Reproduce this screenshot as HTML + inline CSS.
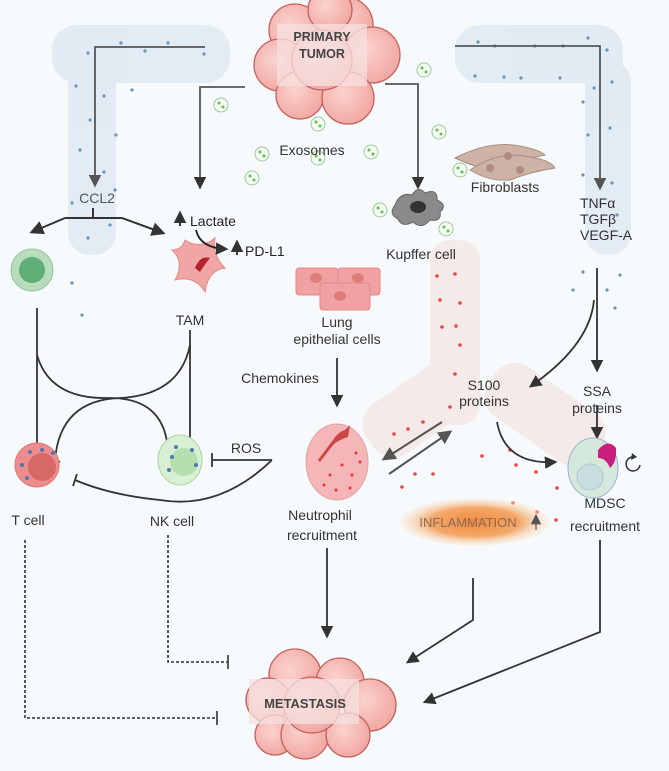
<!DOCTYPE html>
<html><head><meta charset="utf-8"><style>
html,body{margin:0;padding:0;background:#f7fafc;}
svg{display:block;font-family:"Liberation Sans",sans-serif;}
</style></head><body>
<svg width="669" height="771" viewBox="0 0 669 771" xmlns="http://www.w3.org/2000/svg">
<defs>
<marker id="ar" viewBox="0 0 10 10" refX="8" refY="5" markerWidth="7" markerHeight="7" orient="auto"><path d="M0,0 L10,5 L0,10 z" fill="#333"/></marker>
<marker id="ag" viewBox="0 0 10 10" refX="8" refY="5" markerWidth="7" markerHeight="7" orient="auto"><path d="M0,0 L10,5 L0,10 z" fill="#555"/></marker>
<radialGradient id="inf" cx="0.5" cy="0.5" r="0.5"><stop offset="0" stop-color="#f08a3c"/><stop offset="0.6" stop-color="#f4a86a"/><stop offset="1" stop-color="#fbe9d4" stop-opacity="0.3"/></radialGradient>
<radialGradient id="tum" cx="0.4" cy="0.4" r="0.7"><stop offset="0" stop-color="#fbd3cf"/><stop offset="1" stop-color="#f0a29c"/></radialGradient>
</defs>
<rect width="669" height="771" fill="#f7fafc"/>
<g fill="#dfe8f3" opacity="0.85">
<rect x="52" y="25" width="178" height="58" rx="25"/>
<rect x="68" y="60" width="48" height="195" rx="22"/>
<rect x="455" y="25" width="168" height="58" rx="25"/>
<rect x="585" y="60" width="46" height="195" rx="22"/>
</g>
<g fill="#6a93b8">
<circle cx="88" cy="53" r="1.6"/><circle cx="121" cy="43" r="1.6"/><circle cx="145" cy="51" r="1.6"/><circle cx="168" cy="43" r="1.6"/><circle cx="204" cy="54" r="1.6"/><circle cx="76" cy="86" r="1.6"/><circle cx="104" cy="96" r="1.6"/><circle cx="132" cy="90" r="1.6"/><circle cx="90" cy="120" r="1.6"/><circle cx="116" cy="135" r="1.6"/><circle cx="80" cy="150" r="1.6"/><circle cx="104" cy="172" r="1.6"/><circle cx="72" cy="203" r="1.6"/><circle cx="110" cy="225" r="1.6"/><circle cx="88" cy="238" r="1.6"/><circle cx="72" cy="283" r="1.6"/><circle cx="82" cy="315" r="1.6"/><circle cx="115" cy="190" r="1.6"/>
<circle cx="478" cy="42" r="1.6"/><circle cx="495" cy="46" r="1.6"/><circle cx="535" cy="46" r="1.6"/><circle cx="563" cy="46" r="1.6"/><circle cx="588" cy="38" r="1.6"/><circle cx="607" cy="50" r="1.6"/><circle cx="475" cy="76" r="1.6"/><circle cx="504" cy="77" r="1.6"/><circle cx="521" cy="78" r="1.6"/><circle cx="560" cy="78" r="1.6"/><circle cx="594" cy="88" r="1.6"/><circle cx="612" cy="82" r="1.6"/><circle cx="583" cy="102" r="1.6"/><circle cx="610" cy="128" r="1.6"/><circle cx="588" cy="135" r="1.6"/><circle cx="583" cy="175" r="1.6"/><circle cx="612" cy="183" r="1.6"/><circle cx="617" cy="215" r="1.6"/>
<circle cx="583" cy="272" r="1.6"/><circle cx="620" cy="275" r="1.6"/><circle cx="573" cy="290" r="1.6"/><circle cx="607" cy="290" r="1.6"/><circle cx="615" cy="308" r="1.6"/>
</g>
<g fill="#f4e9e5" opacity="0.9">
<rect x="430" y="240" width="50" height="185" rx="20"/>
<rect x="360" y="380" width="115" height="60" rx="25" transform="rotate(-35 417 410)"/>
<rect x="480" y="385" width="130" height="60" rx="25" transform="rotate(35 545 415)"/>
</g>
<g fill="#e44">
<circle cx="437" cy="276" r="1.8"/><circle cx="455" cy="274" r="1.8"/><circle cx="440" cy="300" r="1.8"/><circle cx="460" cy="303" r="1.8"/><circle cx="442" cy="327" r="1.8"/><circle cx="456" cy="326" r="1.8"/><circle cx="460" cy="345" r="1.8"/><circle cx="455" cy="374" r="1.8"/><circle cx="450" cy="407" r="1.8"/><circle cx="394" cy="434" r="1.8"/><circle cx="408" cy="429" r="1.8"/><circle cx="423" cy="422" r="1.8"/><circle cx="402" cy="487" r="1.8"/><circle cx="415" cy="474" r="1.8"/><circle cx="433" cy="474" r="1.8"/><circle cx="482" cy="456" r="1.8"/><circle cx="510" cy="450" r="1.8"/><circle cx="516" cy="465" r="1.8"/><circle cx="536" cy="472" r="1.8"/><circle cx="513" cy="503" r="1.8"/><circle cx="537" cy="512" r="1.8"/><circle cx="557" cy="488" r="1.8"/><circle cx="556" cy="520" r="1.8"/>
</g>
<g stroke="#c6605e" stroke-width="1.3" fill="url(#tum)">
<circle cx="295" cy="30" r="26"/><circle cx="345" cy="25" r="28"/><circle cx="330" cy="10" r="22"/><circle cx="372" cy="55" r="28"/><circle cx="280" cy="65" r="26"/><circle cx="300" cy="95" r="24"/><circle cx="348" cy="98" r="26"/><circle cx="322" cy="60" r="30"/>
</g>
<rect x="277" y="24" width="90" height="62" fill="#f6e2e0" opacity="0.75"/>
<text x="322" y="41" font-size="12.5" font-weight="bold" fill="#444" text-anchor="middle">PRIMARY</text>
<text x="322" y="58" font-size="12.5" font-weight="bold" fill="#444" text-anchor="middle">TUMOR</text>
<g stroke="#c6605e" stroke-width="1.3" fill="url(#tum)">
<circle cx="295" cy="675" r="26"/><circle cx="340" cy="682" r="24"/><circle cx="370" cy="705" r="26"/><circle cx="268" cy="700" r="22"/><circle cx="275" cy="735" r="20"/><circle cx="305" cy="735" r="24"/><circle cx="348" cy="735" r="22"/><circle cx="312" cy="705" r="28"/>
</g>
<rect x="249" y="679" width="110" height="45" fill="#f6e2e0" opacity="0.75"/>
<text x="305" y="708" font-size="13" font-weight="bold" fill="#444" text-anchor="middle">METASTASIS</text>
<g stroke="#555" stroke-width="1.8" fill="none">
<path d="M205,47 H95 V185" marker-end="url(#ag)"/>
<path d="M455,46 H600 V188" marker-end="url(#ag)"/>
<path d="M245,87 H200 V187" marker-end="url(#ar)"/>
<path d="M385,84 H418 V187" marker-end="url(#ar)"/>
</g>
<text x="97" y="203" font-size="14" fill="#555" text-anchor="middle">CCL2</text>
<g stroke="#333" stroke-width="2" fill="none">
<path d="M93,208 V218"/>
<path d="M65,218 H122"/>
<path d="M65,218 L32,232" marker-end="url(#ar)"/>
<path d="M122,218 L163,233" marker-end="url(#ar)"/>
</g>
<g stroke="#9cc89a" stroke-width="1" fill="#f5fbf3">
<circle cx="221" cy="105" r="7"/><circle cx="262" cy="154" r="7"/><circle cx="318" cy="124" r="7"/><circle cx="371" cy="152" r="7"/><circle cx="380" cy="210" r="7"/><circle cx="252" cy="178" r="7"/><circle cx="424" cy="70" r="7"/><circle cx="439" cy="132" r="7"/><circle cx="460" cy="170" r="7"/><circle cx="446" cy="229" r="7"/><circle cx="318" cy="158" r="7"/>
</g>
<g fill="#5ac050">
<circle cx="219" cy="103" r="1.5"/><circle cx="223" cy="107" r="1.5"/><circle cx="316" cy="122" r="1.5"/><circle cx="320" cy="126" r="1.5"/><circle cx="260" cy="152" r="1.5"/><circle cx="264" cy="156" r="1.5"/><circle cx="369" cy="150" r="1.5"/><circle cx="373" cy="154" r="1.5"/><circle cx="378" cy="208" r="1.5"/><circle cx="382" cy="212" r="1.5"/><circle cx="250" cy="176" r="1.5"/><circle cx="254" cy="180" r="1.5"/><circle cx="422" cy="68" r="1.5"/><circle cx="426" cy="72" r="1.5"/><circle cx="437" cy="130" r="1.5"/><circle cx="441" cy="134" r="1.5"/><circle cx="458" cy="168" r="1.5"/><circle cx="462" cy="172" r="1.5"/><circle cx="444" cy="227" r="1.5"/><circle cx="448" cy="231" r="1.5"/><circle cx="316" cy="156" r="1.5"/><circle cx="320" cy="160" r="1.5"/>
</g>
<text x="312" y="155" font-size="14" fill="#333" text-anchor="middle">Exosomes</text>
<g fill="#cdb3a5" stroke="#a88e80" stroke-width="1">
<path d="M455,158 Q490,140 520,146 Q540,150 545,155 Q520,160 500,170 Q480,170 455,158z"/>
<path d="M470,170 Q500,150 530,157 Q550,160 555,168 Q530,172 510,180 Q490,182 470,170z"/>
</g>
<g fill="#b08c80"><circle cx="508" cy="156" r="4"/><circle cx="490" cy="168" r="4"/><circle cx="520" cy="170" r="4"/></g>
<text x="505" y="192" font-size="14" fill="#333" text-anchor="middle">Fibroblasts</text>
<text x="580" y="208" font-size="14" fill="#333">TNFα</text>
<text x="580" y="224" font-size="14" fill="#333">TGFβ</text>
<text x="580" y="240" font-size="14" fill="#333">VEGF-A</text>
<path d="M395,205 Q400,192 412,195 Q418,185 425,193 Q438,188 437,200 Q448,205 440,212 Q442,222 430,220 Q422,230 413,222 Q402,228 398,219 Q388,214 395,205z" fill="#8a8a8a" stroke="#666"/>
<ellipse cx="418" cy="207" rx="8" ry="6" fill="#333"/>
<text x="421" y="259" font-size="14" fill="#333" text-anchor="middle">Kupffer cell</text>
<circle cx="32" cy="270" r="21" fill="#b8dcbc" stroke="#8fc49a"/>
<circle cx="32" cy="270" r="13" fill="#5fae77"/>
<path d="M185,240 Q200,250 215,238 Q212,255 225,268 Q208,270 205,292 Q195,275 175,280 Q185,262 172,250 Q182,250 185,240z" fill="#f0a6a4" stroke="#e08a88"/>
<path d="M195,268 Q200,255 210,258 Q205,264 200,272z" fill="#b5232e"/>
<text x="190" y="325" font-size="14" fill="#333" text-anchor="middle">TAM</text>
<g stroke="#222" stroke-width="1.8" fill="none">
<path d="M180,226 V213" marker-end="url(#ar)"/>
<path d="M237,255 V242" marker-end="url(#ar)"/>
<path d="M196,230 Q200,248 226,249" marker-end="url(#ar)"/>
</g>
<text x="190" y="226" font-size="14" fill="#222">Lactate</text>
<text x="245" y="256" font-size="14" fill="#222">PD-L1</text>
<g fill="#f0a2a2" stroke="#e48888">
<rect x="296" y="268" width="42" height="27" rx="3"/><rect x="338" y="268" width="42" height="27" rx="3"/><rect x="320" y="283" width="50" height="27" rx="3"/>
</g>
<g fill="#e07c7c"><ellipse cx="316" cy="278" rx="6" ry="5"/><ellipse cx="358" cy="278" rx="6" ry="5"/><ellipse cx="340" cy="296" rx="6" ry="5"/></g>
<text x="337" y="327" font-size="14" fill="#333" text-anchor="middle">Lung</text>
<text x="337" y="344" font-size="14" fill="#333" text-anchor="middle">epithelial cells</text>
<text x="280" y="383" font-size="14" fill="#333" text-anchor="middle">Chemokines</text>
<g stroke="#333" stroke-width="1.8" fill="none">
<path d="M37,308 V461" />
<path d="M31,461 H43"/>
<path d="M37,355 Q50,400 110,398 Q165,398 168,451"/>
<path d="M162,451 H174"/>
<path d="M190,330 V448"/>
<path d="M184,448 H196"/>
<path d="M190,345 Q180,395 120,398 Q60,400 55,460"/>
<path d="M50,459 L60,462"/>
<path d="M272,460 H212"/><path d="M212,453 V467"/>
<path d="M272,460 Q220,510 160,500 Q110,495 75,480"/><path d="M73,486 L77,474"/>
</g>
<text x="246" y="453" font-size="14" fill="#333" text-anchor="middle">ROS</text>
<circle cx="37" cy="465" r="22" fill="#ec8c8c" stroke="#e07878"/>
<circle cx="42" cy="467" r="14" fill="#d86868"/>
<g fill="#4a7ab0"><circle cx="30" cy="452" r="2"/><circle cx="42" cy="450" r="2"/><circle cx="53" cy="453" r="2"/><circle cx="22" cy="465" r="2"/><circle cx="27" cy="478" r="2"/></g>
<text x="28" y="525" font-size="14" fill="#333" text-anchor="middle">T cell</text>
<ellipse cx="180" cy="460" rx="22" ry="25" fill="#d8efd3" stroke="#a9d6a6"/>
<circle cx="184" cy="462" r="14" fill="#b5dfae"/>
<g fill="#4a7ab0"><circle cx="192" cy="450" r="2"/><circle cx="172" cy="457" r="2"/><circle cx="176" cy="447" r="2"/><circle cx="196" cy="465" r="2"/><circle cx="169" cy="470" r="2"/></g>
<text x="172" y="526" font-size="14" fill="#333" text-anchor="middle">NK cell</text>
<ellipse cx="337" cy="462" rx="31" ry="38" fill="#f4b6b6" stroke="#e8a0a0"/>
<path d="M318,460 L333,440 Q338,432 345,430 L350,425 L348,437 Q338,440 333,445 L320,462z" fill="#c44"/>
<g fill="#e33"><circle cx="330" cy="475" r="1.5"/><circle cx="342" cy="465" r="1.5"/><circle cx="352" cy="475" r="1.5"/><circle cx="336" cy="490" r="1.5"/><circle cx="350" cy="488" r="1.5"/><circle cx="360" cy="462" r="1.5"/><circle cx="324" cy="485" r="1.5"/><circle cx="356" cy="453" r="1.5"/></g>
<text x="320" y="520" font-size="14" fill="#333" text-anchor="middle">Neutrophil</text>
<text x="322" y="540" font-size="14" fill="#333" text-anchor="middle">recruitment</text>
<g stroke="#333" stroke-width="1.8" fill="none">
<path d="M337,358 V405" marker-end="url(#ar)"/>
<path d="M597,268 V370" marker-end="url(#ar)"/>
<path d="M594,300 Q590,345 531,386" marker-end="url(#ar)"/>
<path d="M597,405 V437" marker-end="url(#ar)"/>
<path d="M497,422 Q505,465 555,462" marker-end="url(#ar)"/>
<path d="M327,548 V636" marker-end="url(#ar)"/>
<path d="M473,578 V620 L408,662" marker-end="url(#ar)"/>
<path d="M600,540 V632 L425,702" marker-end="url(#ar)"/>
</g>
<g stroke="#555" stroke-width="2" fill="none">
<path d="M442,422 L384,459" marker-end="url(#ag)"/>
<path d="M389,474 L450,432" marker-end="url(#ag)"/>
</g>
<text x="484" y="390" font-size="14" fill="#333" text-anchor="middle">S100</text>
<text x="484" y="406" font-size="14" fill="#333" text-anchor="middle">proteins</text>
<text x="597" y="396" font-size="14" fill="#333" text-anchor="middle">SSA</text>
<text x="597" y="413" font-size="14" fill="#333" text-anchor="middle">proteins</text>
<ellipse cx="593" cy="468" rx="25" ry="30" fill="#d4e8dc" stroke="#9ab0d8"/>
<path d="M598,450 Q608,438 616,448 Q617,462 610,468 Q606,458 598,458z" fill="#c8207a"/>
<circle cx="590" cy="477" r="13" fill="#c8dde0" stroke="#b0c8cc"/>
<path d="M640,465 A7,7 0 1 1 634,457" stroke="#333" stroke-width="1.5" fill="none"/>
<path d="M632,453 L637,457 L631,460z" fill="#333"/>
<text x="605" y="508" font-size="14" fill="#333" text-anchor="middle">MDSC</text>
<text x="605" y="531" font-size="14" fill="#333" text-anchor="middle">recruitment</text>
<ellipse cx="475" cy="522" rx="75" ry="24" fill="url(#inf)"/>
<text x="468" y="527" font-size="13" fill="#8a6a5a" text-anchor="middle">INFLAMMATION</text>
<path d="M536,530 V516" stroke="#8a6a5a" stroke-width="1.5" marker-end="url(#ag)"/>
<g stroke="#333" stroke-width="1.6" fill="none" stroke-dasharray="3,2">
<path d="M168,535 V662 H228"/>
<path d="M25,540 V718 H217"/>
</g>
<g stroke="#333" stroke-width="1.6"><path d="M228,655 V669"/><path d="M217,711 V725"/></g>
</svg>
</body></html>
